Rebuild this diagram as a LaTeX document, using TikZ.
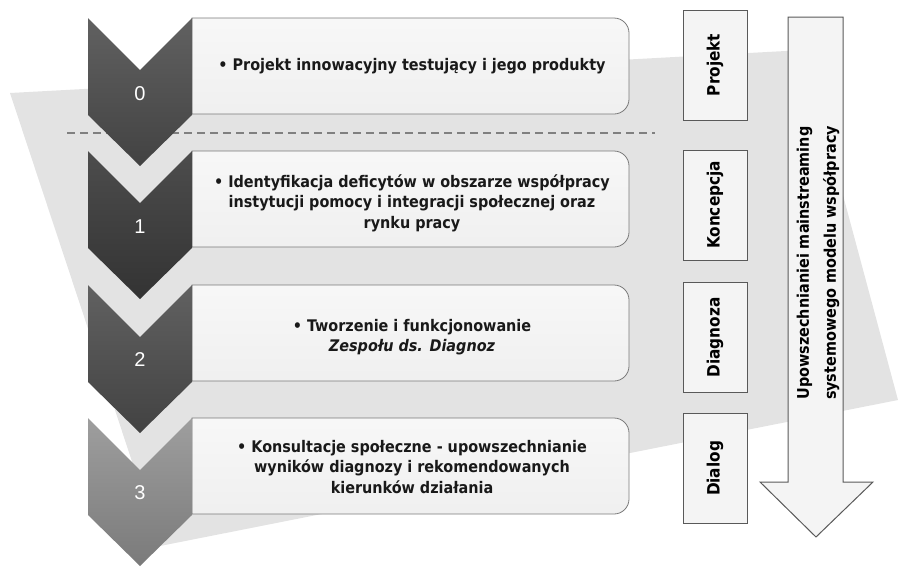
\documentclass[tikz,border=0pt]{standalone}
\usepackage{fontspec}
\setmainfont{DejaVu Sans Condensed}
\newfontfamily\numfont{Liberation Sans}
\definecolor{bgband}{HTML}{E3E3E3}
\definecolor{boxfill}{HTML}{F4F4F4}
\definecolor{edge}{HTML}{7A7A7A}
\tikzset{
  stepbox/.style={draw=edge, line width=0.8pt, top color=white!97!black, bottom color=white!94!black},
  stagebox/.style={draw=black!65, line width=1pt, fill=boxfill, minimum width=64pt, minimum height=110pt, inner sep=0pt},
  stagetext/.style={font=\bfseries\fontsize{17}{19}\selectfont, rotate=90},
  bodytext/.style={font=\bfseries\fontsize{16}{20.5}\selectfont, align=center, text=black!90},
  numtext/.style={font=\numfont\fontsize{20}{22}\selectfont, text=white},
}
% one chevron step, top edge at y=#1
\newcommand{\chevpath}[1]{(88,#1) -- (140,#1+52) -- (192,#1) -- (192,#1+97) -- (140,#1+148) -- (88,#1+97) -- cycle}
% one text panel with rounded right corners, top edge at y=#1
\newcommand{\panelpath}[1]{(192,#1) -- (600,#1) [rounded corners=15pt] -- (629,#1) -- (629,#1+96) -- (600,#1+96) [sharp corners] -- (192,#1+96) -- cycle}
\begin{document}
\begin{tikzpicture}[x=1pt,y=-1pt]
\useasboundingbox (0,0) rectangle (898,566);
% background band
\fill[bgband] (10,93) -- (804,50) -- (898,400) -- (160,546) -- cycle;
% separator between project and the process
\draw[black!50, line width=1.2pt, dash pattern=on 8pt off 5pt] (67,133) coordinate (sepL) -- (655,133) coordinate (sepR);
% text panels
\draw[stepbox] \panelpath{18};
\draw[stepbox] \panelpath{151};
\draw[stepbox] \panelpath{285};
\draw[stepbox] \panelpath{418};
% chevrons
\shade[top color=black!62, bottom color=black!74] \chevpath{18};
\shade[top color=black!70, bottom color=black!80] \chevpath{151};
\shade[top color=black!62, bottom color=black!74] \chevpath{285};
\shade[top color=black!38, bottom color=black!52] \chevpath{418};
\node[numtext] (n0) at (140,94) {0};
\node[numtext] (n1) at (140,227) {1};
\node[numtext] (n2) at (140,360) {2};
\node[numtext] (n3) at (140,493) {3};
% panel texts
\node[bodytext] (t0) at (412,66) {•\ Projekt innowacyjny testujący i jego produkty};
\node[bodytext] (t1) at (412,203) {•\ Identyfikacja deficytów w obszarze współpracy\\instytucji pomocy i integracji społecznej oraz\\rynku pracy};
\node[bodytext] (t2) at (412,337) {•\ Tworzenie i funkcjonowanie\\\itshape Zespołu ds. Diagnoz};
\node[bodytext] (t3) at (412,467) {•\ Konsultacje społeczne - upowszechnianie\\wyników diagnozy i rekomendowanych\\kierunków działania};
% stage labels
\node[stagebox] (s0) at (715,65) {};
\node[stagetext] at (s0) {Projekt};
\node[stagebox] (s1) at (715,205) {};
\node[stagetext] at (s1) {Koncepcja};
\node[stagebox] (s2) at (715,337.5) {};
\node[stagetext] at (s2) {Diagnoza};
\node[stagebox] (s3) at (715,468.5) {};
\node[stagetext] at (s3) {Dialog};
% dissemination arrow
\draw[black!65, line width=1pt, fill=boxfill] (788,17) -- (843,17) -- (843,482) -- (873,482) -- (816,537) -- (760,482) -- (788,482) -- cycle;
\node[font=\bfseries\fontsize{16}{27}\selectfont, align=center, rotate=90] (arr) at (818,263) {Upowszechnianiei mainstreaming\\systemowego modelu współpracy};
\end{tikzpicture}
\end{document}
